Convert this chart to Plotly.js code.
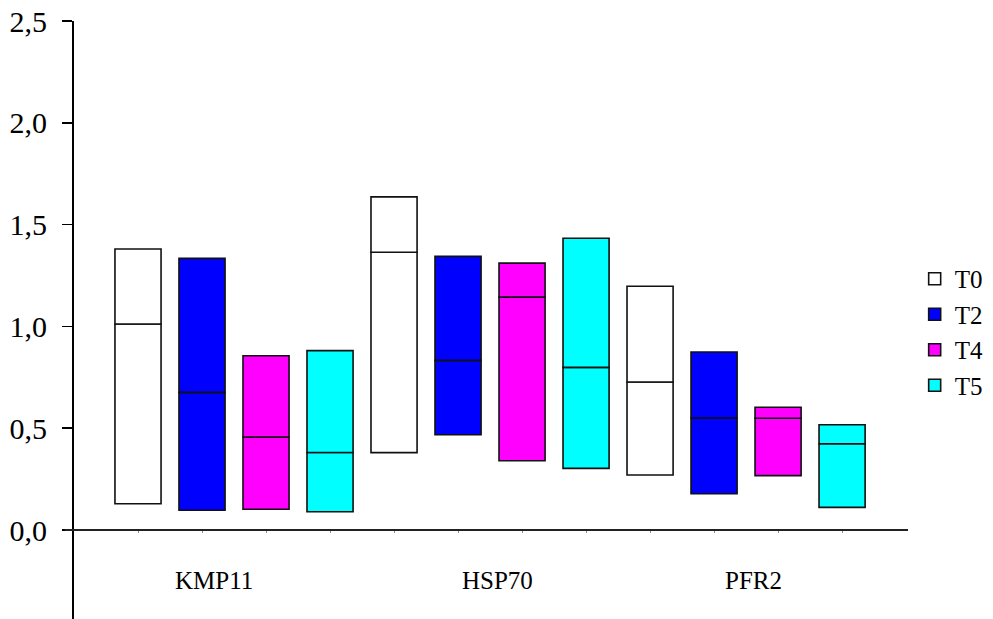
<!DOCTYPE html>
<html>
<head>
<meta charset="utf-8">
<script src="https://cdn.plot.ly/plotly-3.0.1.min.js"></script>
<style>html,body{margin:0;padding:0;background:#fff;}#chart{width:993px;height:619px;}</style>
</head>
<body>
<div id="chart"></div>
<script>
// ---- data ----
const categories = ['KMP11', 'HSP70', 'PFR2'];
const seriesNames = ['T0', 'T2', 'T4', 'T5'];
const lowT0  = [0.129, 0.380, 0.270];
const midT0  = [1.012, 1.364, 0.727];
const highT0 = [1.380, 1.636, 1.197];
const lowT2  = [0.097, 0.468, 0.178];
const midT2  = [0.676, 0.833, 0.550];
const highT2 = [1.334, 1.344, 0.874];
const lowT4  = [0.102, 0.340, 0.267];
const midT4  = [0.457, 1.144, 0.549];
const highT4 = [0.856, 1.311, 0.603];
const lowT5  = [0.090, 0.303, 0.111];
const midT5  = [0.381, 0.799, 0.424];
const highT5 = [0.881, 1.433, 0.517];
const yTicks = [0, 0.5, 1.0, 1.5, 2.0, 2.5];

// ---- styling ----
const colors = ['#FFFFFF', '#0000FF', '#FF00FF', '#00FFFF'];
const lows = [lowT0, lowT2, lowT4, lowT5];
const mids = [midT0, midT2, midT4, midT5];
const highs = [highT0, highT2, highT4, highT5];
const nS = seriesNames.length;
const labelShift = [-0.32, 0.12, 0.11]; // label placement offsets (layout only)
const font = 'Liberation Serif, Times New Roman, serif';
const yMin = -0.437, yMax = 2.5;

const traces = [];
seriesNames.forEach((name, s) => {
  const xs = categories.map((c, g) => g * nS + s);
  const line = {color: '#111', width: 1.6};
  traces.push({
    type: 'bar', x: xs, base: lows[s],
    y: lows[s].map((v, i) => mids[s][i] - v),
    width: 0.72, marker: {color: colors[s], line: line},
    name: name, legendgroup: name, showlegend: true, hoverinfo: 'skip'
  });
  traces.push({
    type: 'bar', x: xs, base: mids[s],
    y: mids[s].map((v, i) => highs[s][i] - v),
    width: 0.72, marker: {color: colors[s], line: line},
    name: name, legendgroup: name, showlegend: false, hoverinfo: 'skip'
  });
});

const tickPos = [];
categories.forEach((c, g) => seriesNames.forEach((n, s) => tickPos.push(g * nS + s)));

const annotations = categories.map((c, g) => ({
  x: g * nS + (nS - 1) / 2 + labelShift[g], y: -0.25, xref: 'x', yref: 'y',
  text: c, showarrow: false, xanchor: 'center', yanchor: 'middle',
  font: {family: font, size: 25, color: '#000'}
}));

const layout = {
  width: 993, height: 619,
  margin: {l: 74, r: 85, t: 21, b: 0, pad: 0},
  paper_bgcolor: '#fff', plot_bgcolor: '#fff',
  barmode: 'overlay',
  separators: ', ',
  showlegend: true,
  legend: {
    x: 1.008, xanchor: 'left', y: 0.48, yanchor: 'middle',
    font: {family: font, size: 25, color: '#000'},
    traceorder: 'normal', tracegroupgap: 5, itemwidth: 30,
    bgcolor: 'rgba(0,0,0,0)'
  },
  xaxis: {
    range: [-1, 12.03], anchor: 'free', position: (0 - yMin) / (yMax - yMin),
    showline: false, showgrid: false, zeroline: false,
    tickmode: 'array', tickvals: tickPos, showticklabels: false,
    ticks: 'outside', ticklen: 2, tickwidth: 1, tickcolor: '#888',
    fixedrange: true
  },
  yaxis: {
    range: [yMin, yMax], showgrid: false, zeroline: false,
    showline: true, linecolor: '#000', linewidth: 2,
    tickmode: 'array', tickvals: yTicks, tickformat: '.1f',
    ticks: 'outside', ticklen: 10, tickwidth: 1.5, tickcolor: '#000',
    ticklabelstandoff: 9,
    tickfont: {family: font, size: 30, color: '#000'},
    fixedrange: true
  },
  shapes: [{
    type: 'line', xref: 'paper', yref: 'y', x0: -0.011, x1: 1, y0: 0, y1: 0,
    line: {color: '#222', width: 2}
  }],
  annotations: annotations
};

Plotly.newPlot('chart', traces, layout, {staticPlot: true, displayModeBar: false});
</script>
</body>
</html>
